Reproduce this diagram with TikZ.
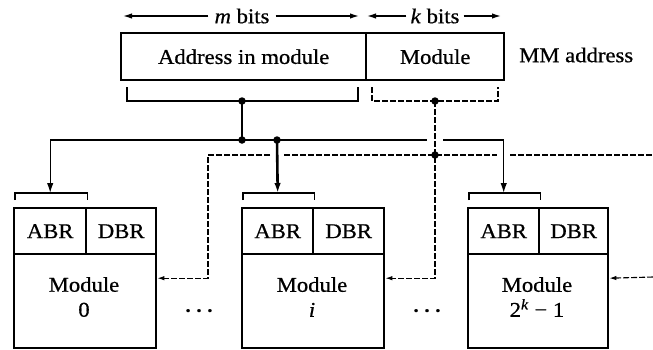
\documentclass[tikz,border=0pt]{standalone}
\usepackage{fontspec}
\setmainfont{Liberation Serif}[FakeStretch=1.08,FakeBold=0.6]
\usetikzlibrary{arrows.meta}
\begin{document}
\begin{tikzpicture}[x=1pt,y=-1pt,
  box/.style={draw,line width=2.4pt,inner sep=0pt,font=\fontsize{21}{25}\selectfont},
  lbl/.style={inner sep=1pt,font=\fontsize{21}{25}\selectfont},
  conn/.style={line width=1.4pt},
  bus/.style={line width=2.6pt},
  dsh/.style={line width=1.1pt,dash pattern=on 6pt off 2pt},
  tip/.style={-{Latex[length=10pt,width=6.5pt]}},
  stip/.style={-{Latex[length=9pt,width=5.5pt]}},
  dtip/.style={-{Latex[length=7pt,width=4.5pt]}},
  jdot/.style={circle,fill,inner sep=0pt,minimum size=7.5pt},
  ellip/.style={inner sep=0pt,font=\fontsize{13}{13}\selectfont}]
\useasboundingbox (0,0) rectangle (653,349);

% MM address
\node[box,minimum width=245pt,minimum height=47pt,anchor=north west] (addr) at (120,32) {Address in module};
\node[box,minimum width=138pt,minimum height=47pt,anchor=north west] (modf) at (365,32) {Module};
\node[lbl,anchor=west] (mm) at (518,55) {MM address};

% bit widths
\node[lbl,inner xsep=6pt] (mb) at (242,16) {\textit{m} bits};
\node[lbl,inner xsep=4pt] (kb) at (435,16) {\textit{k} bits};
\coordinate (mL) at (123,16);
\coordinate (mR) at (359,16);
\coordinate (kL) at (367,16);
\coordinate (kR) at (501,16);
\draw[conn,stip] (mb.west) -- (mL);
\draw[conn,stip] (mb.east) -- (mR);
\draw[conn,stip] (kb.west) -- (kL);
\draw[conn,stip] (kb.east) -- (kR);

% brackets under address fields
\coordinate (bA1) at (127,87);
\coordinate (bA2) at (358,87);
\coordinate (bM1) at (372,87);
\coordinate (bM2) at (498,87);
\draw[conn] (bA1) -- ++(0,14) -| (bA2);
\draw[dsh] (bM1) -- ++(0,14) -| (bM2);

% modules
\node[box,minimum width=142pt,minimum height=140pt,anchor=north west] (m0) at (13,207) {};
\node[box,minimum width=72pt,minimum height=46pt,anchor=north west] (a0) at (m0.north west) {ABR};
\node[box,minimum width=70pt,minimum height=46pt,anchor=north east] (d0) at (m0.north east) {DBR};
\node[lbl,align=center] (t0) at (84,297) {Module\\0};

\node[box,minimum width=142pt,minimum height=140pt,anchor=north west] (m1) at (241,207) {};
\node[box,minimum width=71pt,minimum height=46pt,anchor=north west] (a1) at (m1.north west) {ABR};
\node[box,minimum width=71pt,minimum height=46pt,anchor=north east] (d1) at (m1.north east) {DBR};
\node[lbl,align=center] (t1) at (312,297) {Module\\\textit{i}};

\node[box,minimum width=140pt,minimum height=140pt,anchor=north west] (m2) at (467,207) {};
\node[box,minimum width=71pt,minimum height=46pt,anchor=north west] (a2) at (m2.north west) {ABR};
\node[box,minimum width=69pt,minimum height=46pt,anchor=north east] (d2) at (m2.north east) {DBR};
\node[lbl,align=center] (t2) at (537,297) {Module\\2\textsuperscript{\textit{k}} − 1};

\node[ellip] (dots1) at (199,312) {•\hspace{6pt}•\hspace{6pt}•};
\node[ellip] (dots2) at (427,312) {•\hspace{6pt}•\hspace{6pt}•};

% brackets over ABR
\foreach \a in {a0,a1,a2}{
  \draw[conn] ([shift={(2,-7)}]\a.north west) -- ++(0,-7) -| ([shift={(0,-7)}]\a.north east);
}
\coordinate (p0) at ([shift={(0,-14)}]a0.north);
\coordinate (p1) at ([shift={(0,-14)}]a1.north);
\coordinate (p2) at ([shift={(0,-14)}]a2.north);

% junctions
\coordinate (j1) at (242,101);
\coordinate (j2) at (435,101);
\coordinate (j3) at (242,140);
\coordinate (j4) at (277,140);
\coordinate (j5) at (435,155);
\coordinate (gL) at (427,140);
\coordinate (gR) at (443,140);
\coordinate (c0) at (208,155);
\coordinate (e1) at (270,155);
\coordinate (e2) at (284,155);
\coordinate (e3) at (497,155);
\coordinate (e4) at (510,155);
\coordinate (e5) at (653,155);
\coordinate (rin) at (653,277);

% address bus (solid)
\draw[bus] (j1) -- (j3);
\draw[conn,tip] (j3) -| (p0);
\draw[conn] (j3) -- (gL);
\draw[conn,tip] (gR) -| (p2);
\draw[bus,tip] (j4) -- (p1);

% module select (dashed)
\draw[dsh,dtip] (j2) |- (m1.east);
\draw[dsh,dtip] (e1) -- (c0) |- (m0.east);
\draw[dsh] (e2) -- (e3);
\draw[dsh] (e4) -- (e5);
\draw[dsh,dtip] (rin) -- (m2.east);

\foreach \j in {j1,j2,j3,j4,j5} \node[jdot] at (\j) {};
\end{tikzpicture}
\end{document}
